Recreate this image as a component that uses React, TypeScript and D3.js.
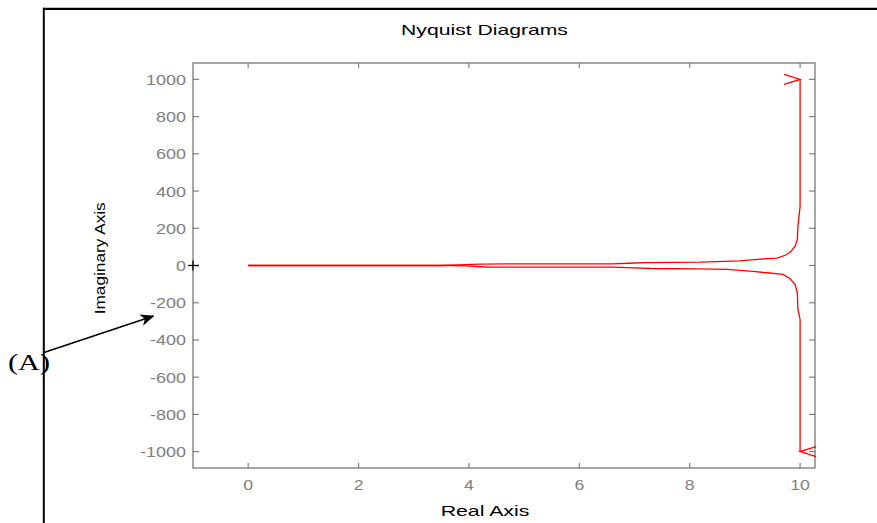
import React, { useEffect } from 'react';
import * as d3 from 'd3';

const W = 877;
const H = 523;

// Axis tick values
const realTicks = [0, 2, 4, 6, 8, 10];
const imagTicks = [-1000, -800, -600, -400, -200, 0, 200, 400, 600, 800, 1000];

// Nyquist locus, positive-frequency branch (Re, Im)
const upperBranch: [number, number][] = [
  [0, 0], [2, 0], [3.5, 0], [3.8, 3], [4.2, 7], [4.7, 9], [5.5, 9], [6.6, 9],
  [6.9, 12], [7.2, 15], [8.19, 17.7], [8.9, 25], [9.4, 37], [9.58, 40],
  [9.73, 55], [9.82, 71], [9.91, 103], [9.95, 139], [9.96, 210], [9.98, 264],
  [10.0, 318], [10.0, 1000],
];

// Mirror branch (negative frequencies)
const lowerBranch: [number, number][] = [
  [0, 0], [2, 0], [3.6, 0], [3.95, -2], [4.3, -8], [4.8, -9], [6.6, -9],
  [7.0, -13], [7.3, -16], [8.19, -17.7], [8.68, -21], [9.15, -32], [9.4, -39],
  [9.69, -48], [9.82, -71], [9.91, -102], [9.95, -146], [9.96, -236],
  [9.98, -263], [10.0, -290], [10.0, -1000],
];

// Direction chevrons at the branch ends (dir: +1 points right, -1 points left)
const directionMarks = [
  { re: 10, im: 1000, dir: 1 },
  { re: 10, im: -1000, dir: -1 },
];

// Critical point -1 + 0j
const criticalPoint: [number, number] = [-1, 0];

const axisGray = '#808080';
const sans = '"Liberation Sans", Arial, Helvetica, sans-serif';
const serif = '"Liberation Serif", "Times New Roman", serif';

export default function App() {
  useEffect(() => {
    document.body.style.margin = '0';
    document.body.style.overflow = 'hidden';
  }, []);

  const left = 193, right = 815, top = 63, bottom = 468;
  const x = d3.scaleLinear().domain([-1, 10.27]).range([left, right]);
  const y = d3.scaleLinear().domain([-1088, 1088]).range([bottom, top]);

  const line = d3
    .line<[number, number]>()
    .x((d) => x(d[0]))
    .y((d) => y(d[1]));

  const tickLen = 5;

  return (
    <svg width={W} height={H} style={{ position: 'absolute', left: 0, top: 0, background: '#fff' }}>
      <defs>
        <marker id="arrowHead" viewBox="0 0 14 12" refX="13" refY="6" markerWidth="14" markerHeight="12" markerUnits="userSpaceOnUse" orient="auto">
          <path d="M0,0 L14,6 L0,12 L4,6 Z" fill="#000" />
        </marker>
      </defs>

      {/* outer frame */}
      <line x1={43.8} y1={8.8} x2={W} y2={8.8} stroke="#000" strokeWidth={2.2} />
      <line x1={43.8} y1={7.7} x2={43.8} y2={H} stroke="#000" strokeWidth={2} />

      {/* title */}
      <text transform="translate(484.5,35) scale(1.41,1)" textAnchor="middle" fontFamily={sans} fontSize={15} fill="#000">
        Nyquist Diagrams
      </text>

      {/* plot box */}
      <rect x={left} y={top} width={right - left} height={bottom - top} fill="none" stroke={axisGray} strokeWidth={1.4} />

      {/* real-axis ticks */}
      {realTicks.map((t) => (
        <g key={`rx${t}`}>
          <line x1={x(t)} x2={x(t)} y1={bottom} y2={bottom - tickLen} stroke={axisGray} strokeWidth={1.2} />
          <line x1={x(t)} x2={x(t)} y1={top} y2={top + tickLen} stroke={axisGray} strokeWidth={1.2} />
          <text transform={`translate(${x(t)},490) scale(1.18,1)`} textAnchor="middle" fontFamily={sans} fontSize={15} fill={axisGray}>
            {t}
          </text>
        </g>
      ))}

      {/* imaginary-axis ticks */}
      {imagTicks.map((t) => (
        <g key={`iy${t}`}>
          <line x1={left} x2={left + tickLen + 1} y1={y(t)} y2={y(t)} stroke={axisGray} strokeWidth={1.2} />
          <line x1={right} x2={right - tickLen - 1} y1={y(t)} y2={y(t)} stroke={axisGray} strokeWidth={1.2} />
          <text transform={`translate(186,${y(t) + 5.5}) scale(1.2,1)`} textAnchor="end" fontFamily={sans} fontSize={15} fill={axisGray}>
            {t}
          </text>
        </g>
      ))}

      {/* axis labels */}
      <text transform="translate(485,516) scale(1.42,1)" textAnchor="middle" fontFamily={sans} fontSize={15} fill="#000">
        Real Axis
      </text>
      <text transform="translate(105,258.3) rotate(-90) scale(1.23,1)" textAnchor="middle" fontFamily={sans} fontSize={14} fill="#000">
        Imaginary Axis
      </text>

      {/* Nyquist locus */}
      <path d={line(upperBranch) || ''} fill="none" stroke="#ff0000" strokeWidth={1.3} />
      <path d={line(lowerBranch) || ''} fill="none" stroke="#ff0000" strokeWidth={1.3} />

      {directionMarks.map((m, i) => {
        const tx = x(m.re), ty = y(m.im);
        const ax = tx - m.dir * 16;
        return (
          <path
            key={`dm${i}`}
            d={`M${ax},${ty - 5} L${tx},${ty} L${ax},${ty + 5}`}
            fill="none"
            stroke="#ff0000"
            strokeWidth={1.3}
          />
        );
      })}

      {/* critical point marker */}
      <g stroke="#000" strokeWidth={1.3}>
        <line x1={x(criticalPoint[0]) - 5} x2={x(criticalPoint[0]) + 6} y1={y(criticalPoint[1])} y2={y(criticalPoint[1])} />
        <line x1={x(criticalPoint[0])} x2={x(criticalPoint[0])} y1={y(criticalPoint[1]) - 5} y2={y(criticalPoint[1]) + 5} />
      </g>

      {/* annotation */}
      <text x={8} y={370} fontFamily={serif} fontSize={24} textLength={42} lengthAdjust="spacingAndGlyphs" fill="#000">
        (A)
      </text>
      <line x1={44} y1={352.5} x2={153.5} y2={316} stroke="#000" strokeWidth={1.6} markerEnd="url(#arrowHead)" />
    </svg>
  );
}
